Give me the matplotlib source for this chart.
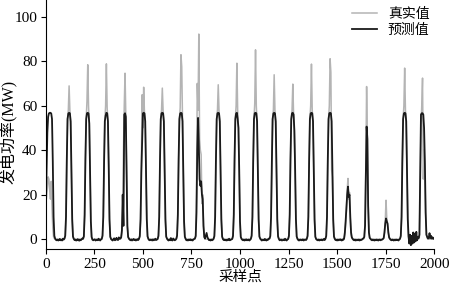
import numpy as np
import matplotlib.pyplot as plt

plt.rcParams['font.family'] = ['Liberation Serif', 'Noto Sans CJK SC']

# one sample every 4 points, one row per 96-point day
step = 4

real_power = [
    16, 19, 23, 28, 27, 22, 18, 26, 14, 5, 1, 0.3, 0, 0, 0, 0, 0, 0, 0, 0, 0, 0, 0, 0,
    0, 1, 9, 34, 54, 58, 68.9, 58, 52, 31, 8, 1, 0, 0, 0, 0, 0, 0, 0, 0, 0, 0, 0, 0,
    0, 1, 10, 35, 54, 62, 78.4, 60, 51, 30, 7, 1, 0, 0, 0, 0, 0, 0, 0, 0, 0, 0, 0, 0,
    0, 1, 9, 33, 53, 60, 78.8, 59, 52, 32, 8, 1, 0, 0, 0, 0, 0, 0, 0, 0, 0, 0, 0, 0,
    0, 0.5, 3, 12, 40, 60, 74.6, 56, 30, 6, 1, 0, 0, 0, 0, 0, 0, 0, 0, 0, 0, 0, 0, 0,
    0, 1, 8, 34, 64.9, 50, 68.3, 57, 52, 31, 8, 1, 0, 0, 0, 0, 0, 0, 0, 0, 0, 0, 0, 0,
    0, 1, 9, 34, 54, 58, 67.9, 58, 52, 31, 8, 1, 0, 0, 0, 0, 0, 0, 0, 0, 0, 0, 0, 0,
    0, 1, 10, 35, 54, 59, 82.9, 77.5, 55, 30, 7, 1, 0, 0, 0, 0, 0, 0, 0, 0, 0, 0, 0, 0,
    0, 1, 20, 70, 58, 92.2, 45, 40, 38, 16, 20, 6, 1, 0, 0, 0, 0, 0, 0, 0, 0, 0, 0, 0,
    0, 1, 9, 34, 54, 58, 69.4, 58, 52, 31, 8, 1, 0, 0, 0, 0, 0, 0, 0, 0, 0, 0, 0, 0,
    0, 1, 10, 35, 54, 60, 79.1, 58, 50, 30, 7, 1, 0, 0, 0, 0, 0, 0, 0, 0, 0, 0, 0, 0,
    0, 1, 9, 34, 54, 61, 85.1, 60, 52, 31, 8, 1, 0, 0, 0, 0, 0, 0, 0, 0, 0, 0, 0, 0,
    0, 1, 9, 33, 54, 58, 73.9, 58, 52, 31, 8, 1, 0, 0, 0, 0, 0, 0, 0, 0, 0, 0, 0, 0,
    0, 1, 10, 35, 54, 58, 69.7, 56, 48, 30, 8, 1, 0, 0, 0, 0, 0, 0, 0, 0, 0, 0, 0, 0,
    0, 1, 9, 34, 54, 60, 78.7, 58, 52, 31, 8, 1, 0, 0, 0, 0, 0, 0, 0, 0, 0, 0, 0, 0,
    0, 1, 9, 34, 54, 60, 81.1, 75, 31, 28, 8, 1, 0, 0, 0, 0, 0, 0, 0, 0, 0, 0, 0, 0,
    0, 2, 7, 13, 22, 27.3, 18, 21, 9, 2, 0.5, 0, 0, 0, 0, 0, 0, 0, 0, 0, 0, 0, 0, 0,
    0, 0, 1, 7, 32, 68.6, 46, 16, 3, 0.5, 0, 0, 0, 0, 0, 0, 0, 0, 0, 0, 0, 0, 0, 0,
    0, 0, 0, 0.5, 3, 8, 17.5, 9, 6, 3, 0.5, 0, 0, 0, 0, 0, 0, 0, 0, 0, 0, 0, 0, 0,
    0, 1, 9, 34, 54, 60, 76.9, 58, 52, 31, 8, 1, 0, 0, 0, 0, 0, 0, 0, 0, 0, 0, 0, 0,
    0, 1, 25, 50, 60, 72.4, 27, 40, 30, 12, 2, 0.5, 0, 0, 0, 0, 0, 0, 0, 0, 0,
]

pred_power = [
    14, 30, 48, 55, 56.5, 56.8, 56.8, 56.5, 54, 35, 10, 1.5, 0.3, -0.3, -0.5, -0.2, -0.6, -0.4, 0.1, -0.5, -0.3, -0.6, 0.2, -0.2,
    0.3, 1.5, 10, 35, 54, 56.5, 56.8, 56.6, 53, 32, 9, 1.2, 0.2, -0.4, -0.2, -0.6, -0.5, 0.0, -0.3, -0.7, -0.2, -0.5, -0.1, 0.3,
    0.2, 1.3, 11, 36, 54, 56.6, 56.8, 56.5, 52, 31, 8, 1.0, -0.2, -0.5, -0.3, -0.1, -0.6, -0.4, -0.2, -0.5, 0.2, -0.3, -0.6, -0.1,
    0.1, 1.6, 10, 34, 53, 55.5, 56.8, 56.6, 53, 33, 9, 1.1, 0.1, -0.3, -0.6, -0.2, 0.4, -0.5, -0.3, 0.6, -0.2, -0.4, 0.8, 0.2,
    0.3, 0.8, 4, 20, 6, 56, 56.6, 55, 30, 6, 1, 0.3, -0.2, -0.5, -0.1, -0.6, -0.3, 0.1, -0.4, -0.2, -0.6, -0.3, 0.0, -0.4,
    0.2, 1.4, 9, 30, 43, 56.5, 56.8, 56.6, 53, 32, 9, 1.3, 0.2, -0.4, -0.5, -0.2, -0.3, -0.6, -0.1, -0.5, -0.3, 0.2, -0.4, -0.2,
    0.1, 1.5, 10, 35, 54, 56.6, 56.8, 56.6, 53, 32, 9, 1.2, 0.3, -0.3, -0.6, -0.2, -0.5, 0.5, -0.4, -0.6, 0.3, -0.2, -0.5, -0.3,
    0.2, 1.6, 11, 36, 54, 56.5, 56.8, 56.6, 53, 31, 8, 1.1, 0.2, -0.5, -0.3, -0.6, -0.2, -0.4, -0.1, -0.5, -0.3, -0.6, -0.2, 0.1,
    0.3, 1.5, 12, 40, 54.5, 42, 27, 24, 26, 20, 18, 6, 1, 0.3, 1.5, 2.8, 1.0, 0.2, -0.4, -0.3, -0.6, -0.2, -0.5, -0.3,
    0.2, 1.4, 10, 35, 54, 56.6, 56.8, 56.6, 53, 32, 9, 1.2, 0.1, -0.4, -0.2, -0.5, -0.3, -0.6, -0.2, -0.4, 0.2, -0.5, -0.3, -0.1,
    0.1, 1.5, 11, 36, 54, 56.5, 56.8, 54, 50, 31, 8, 1.0, 0.2, -0.3, -0.5, -0.2, -0.6, -0.3, -0.1, -0.5, -0.4, -0.2, -0.6, -0.3,
    0.2, 1.6, 10, 35, 54, 56.6, 56.8, 56.6, 53, 32, 9, 1.2, 0.3, -0.2, -0.6, -0.4, -0.3, -0.5, 0.1, -0.4, -0.6, -0.2, -0.3, 0.2,
    0.3, 1.4, 10, 34, 54, 56.5, 56.8, 56.6, 53, 32, 9, 1.3, 0.2, -0.5, -0.3, -0.2, -0.6, -0.4, -0.2, -0.5, 0.2, -0.3, -0.6, -0.2,
    0.1, 1.5, 11, 36, 54, 56.6, 56.8, 56, 49, 31, 9, 1.2, 0.2, -0.4, -0.6, -0.3, -0.2, -0.5, -0.4, -0.1, -0.6, -0.3, -0.2, -0.4,
    0.2, 1.5, 10, 35, 54, 56.5, 56.8, 56.6, 53, 32, 9, 1.1, 0.1, -0.3, -0.5, -0.2, -0.6, -0.3, -0.4, -0.2, -0.5, -0.3, 0.1, -0.4,
    0.2, 1.4, 10, 35, 54, 56.6, 56.8, 56.6, 53, 32, 9, 1.2, 0.2, -0.4, -0.3, -0.6, -0.2, -0.5, -0.3, -0.1, -0.4, -0.6, -0.2, -0.3,
    0.3, 3, 8, 14, 20, 23.6, 19, 20, 10, 3, 0.8, 0.2, -0.3, -0.5, -0.2, -0.6, -0.4, -0.3, -0.5, -0.2, -0.6, -0.3, -0.4, -0.2,
    0.2, 0.4, 1, 6, 30, 50.6, 45, 15, 3, 0.6, 0.2, -0.3, -0.5, -0.2, -0.4, -0.6, -0.3, -0.5, -0.2, -0.4, -0.6, -0.3, -0.2, -0.5,
    -0.3, -0.2, 0.1, 0.5, 3, 7, 9.3, 8, 7, 3, 0.8, 0.2, -0.3, -0.5, -0.2, -0.4, -0.6, -0.3, -0.5, -0.2, -0.4, -0.3, -0.6, -0.2,
    0.2, 1.5, 10, 35, 54, 56.5, 56.8, 56.6, 53, 32, 9, 1.2, -2, 2, -2.7, 1.5, -2, 3, -1.5, 2.5, -1, 3.3, -0.5, 1,
    0.5, 2, 30, 56, 56.6, 56.6, 56, 50, 35, 12, 2, 1, 0.3, 0.5, 2.7, 0.5, 1.5, 0.3, 0.8, 0.2, 0.3,
]

labels = ['真实值', '预测值']
x_ticks = [0, 250, 500, 750, 1000, 1250, 1500, 1750, 2000]
y_ticks = [0, 20, 40, 60, 80, 100]

x = np.arange(len(pred_power)) * step

fig = plt.figure(figsize=(4.49, 2.88), dpi=100)
ax = fig.add_axes([0.102, 0.134, 0.865, 0.866])

ax.plot(x, real_power, color='#b4b4b4', lw=1.1, label=labels[0])
ax.plot(x, pred_power, color='#1a1a1a', lw=1.3, label=labels[1])

ax.set_xlim(0, 2000)
ax.set_ylim(-4.6, 107.5)
ax.set_xticks(x_ticks)
ax.set_yticks(y_ticks)
ax.tick_params(labelsize=11, length=3.5, width=0.8, pad=2.5)
ax.spines['top'].set_visible(False)
ax.spines['right'].set_visible(False)

ax.set_xlabel('采样点', fontsize=10.5, labelpad=0)
ax.set_ylabel('发电功率(MW)', fontsize=11.5)
ax.yaxis.set_label_coords(-0.072, 0.47)

ax.legend(loc='upper right', frameon=False, fontsize=10, handlelength=1.8,
          bbox_to_anchor=(1.02, 1.018), labelspacing=0.2)

fig.savefig('out.png', dpi=100)
